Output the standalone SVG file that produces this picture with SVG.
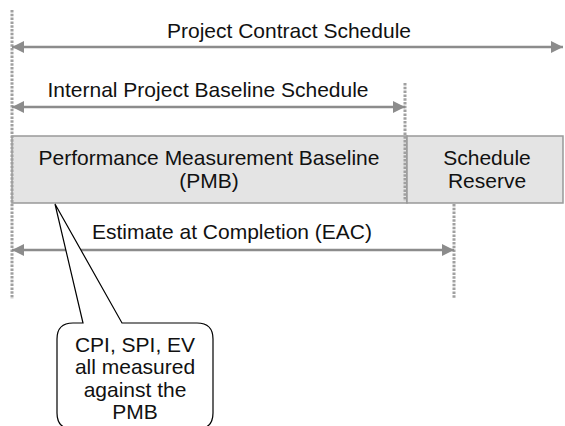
<svg xmlns="http://www.w3.org/2000/svg" width="565" height="426" viewBox="0 0 565 426">
  <defs>
    <marker id="head" viewBox="0 0 12 12" refX="12" refY="6" markerWidth="12" markerHeight="12" markerUnits="userSpaceOnUse" orient="auto-start-reverse">
      <path d="M0,0 L12,6 L0,12 Z" fill="#8c8c8c"/>
    </marker>
    <style>
      .lbl { font-family: "Liberation Sans", Arial, sans-serif; font-size: 21px; fill: #111; text-anchor: middle; }
      .dot { stroke: #a0a0a0; stroke-width: 3; stroke-dasharray: 2.5 1.3; fill: none; }
      .span { stroke: #8c8c8c; stroke-width: 2.5; fill: none; marker-start: url(#head); marker-end: url(#head); }
      .box { fill: #e4e4e4; stroke: #999; stroke-width: 1.5; }
      .call { fill: #fff; stroke: #000; stroke-width: 1.2; }
    </style>
  </defs>

  <!-- boxes -->
  <g id="pmb">
    <rect class="box" x="12" y="136" width="395" height="67"/>
    <text class="lbl" x="209" y="165">Performance Measurement Baseline</text>
    <text class="lbl" x="209" y="188">(PMB)</text>
  </g>
  <g id="reserve">
    <rect class="box" x="407" y="136" width="156" height="67"/>
    <text class="lbl" x="487" y="165">Schedule</text>
    <text class="lbl" x="487" y="188">Reserve</text>
  </g>

  <!-- dotted boundaries and span arrows -->
  <g id="connectors">
    <line class="dot" x1="12" y1="10" x2="12" y2="299"/>
    <line class="dot" x1="405" y1="83" x2="405" y2="201"/>
    <line class="dot" x1="454" y1="204" x2="454" y2="299"/>
    <line class="span" x1="12" y1="47" x2="563" y2="47"/>
    <line class="span" x1="12" y1="107" x2="405" y2="107"/>
    <line class="span" x1="12" y1="250" x2="454" y2="250"/>
  </g>

  <g id="spans">
    <text class="lbl" x="289" y="38">Project Contract Schedule</text>
    <text class="lbl" x="208" y="97">Internal Project Baseline Schedule</text>
    <text class="lbl" x="232" y="239">Estimate at Completion (EAC)</text>
  </g>

  <!-- callout bubble with pointer -->
  <g id="callout">
    <path class="call" d="M73,323 L83,323 L55,204 L122,323 L197,323 Q213,323 213,339 L213,413 Q213,429 197,429 L73,429 Q57,429 57,413 L57,339 Q57,323 73,323 Z"/>
    <text class="lbl" x="135" y="352">CPI, SPI, EV</text>
    <text class="lbl" x="135" y="374">all measured</text>
    <text class="lbl" x="135" y="397">against the</text>
    <text class="lbl" x="135" y="419">PMB</text>
  </g>
</svg>
